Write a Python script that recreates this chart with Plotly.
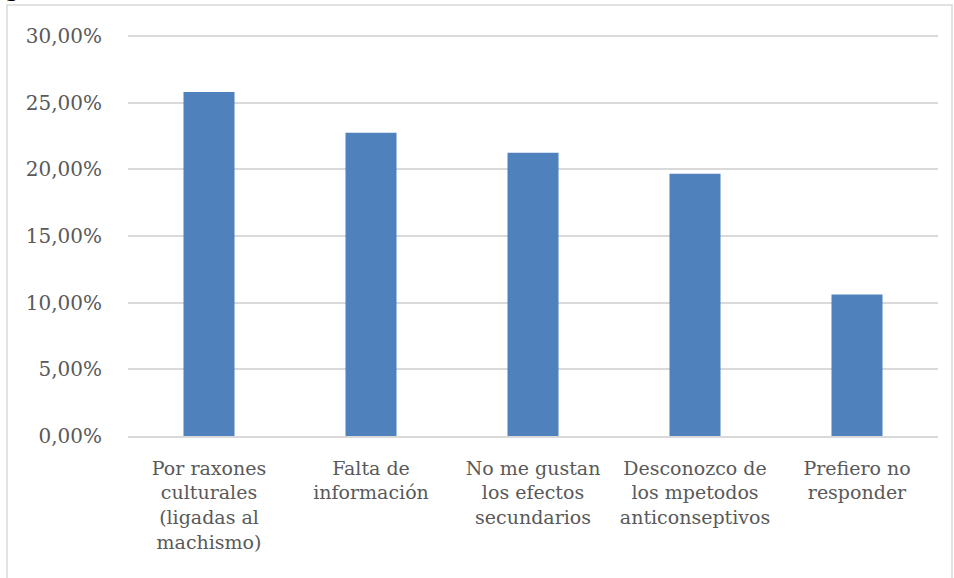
import plotly.graph_objects as go

categories = [
    "Por raxones<br>culturales<br>(ligadas al<br>machismo)",
    "Falta de<br>información",
    "No me gustan<br>los efectos<br>secundarios",
    "Desconozco de<br>los mpetodos<br>anticonseptivos",
    "Prefiero no<br>responder",
]
values = [0.2581, 0.2274, 0.2125, 0.1968, 0.1062]
tick_vals = [0, 0.05, 0.10, 0.15, 0.20, 0.25, 0.30]
tick_text = ["0,00%", "5,00%", "10,00%", "15,00%", "20,00%", "25,00%", "30,00%"]

W, H = 954, 578
L, R, T, B = 128, 16, 35, 142
pw, ph = W - L - R, H - T - B

font_family = "DejaVu Serif"
gray = "#595959"

fig = go.Figure(go.Bar(x=categories, y=values, marker=dict(color="#4f81bd", line=dict(width=0)), width=0.315))

fig.update_layout(
    width=W, height=H,
    margin=dict(l=L, r=R, t=T, b=B, autoexpand=False),
    paper_bgcolor="white", plot_bgcolor="white",
    font=dict(family=font_family, color=gray, size=19),
    showlegend=False,
    bargap=0.685,
)
fig.update_yaxes(
    range=[0, 0.3008], tickvals=tick_vals, ticktext=tick_text,
    showgrid=True, gridcolor="#d9d9d9", gridwidth=1.5,
    zeroline=False, showline=False, ticks="", ticklabelstandoff=25,
    tickfont=dict(size=20, color=gray),
)
fig.update_xaxes(
    showline=True, linecolor="#d9d9d9", linewidth=1.5,
    ticks="", tickfont=dict(size=19, color=gray), tickangle=0,
    ticklabelstandoff=14,
)
# outer chart border
plot_bottom = H - B
fig.add_shape(
    type="rect", xref="paper", yref="paper",
    x0=(7 - L) / pw, x1=(952 - L) / pw,
    y0=(plot_bottom - 620) / ph, y1=(plot_bottom - 5) / ph,
    line=dict(color="#d9d9d9", width=1.5), fillcolor="rgba(0,0,0,0)", layer="below",
)
# cut-off caption glyph above the chart
fig.add_annotation(
    text="g", xref="paper", yref="paper",
    x=(2 - L) / pw, y=1 + (T - 4) / ph,
    xanchor="left", yanchor="bottom", showarrow=False,
    font=dict(family=font_family, size=26, color="#000000"),
)
fig.write_html("out.html", config={"displayModeBar": False},
               post_script="document.body.style.margin='0px';")
